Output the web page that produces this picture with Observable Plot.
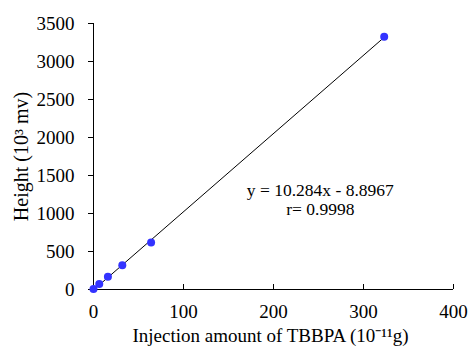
<!DOCTYPE html>
<html><head><meta charset="utf-8">
<script src="https://cdn.jsdelivr.net/npm/d3@7"></script>
<script src="https://cdn.jsdelivr.net/npm/@observablehq/plot@0.6"></script>
<style>body{margin:0;background:#fff}</style></head>
<body><div id="chart"></div>
<script>
const injection = [0, 6.4, 16, 32, 64, 323];
const heights = [5, 72, 168, 318, 617, 3325];
const xTicks = [0, 100, 200, 300, 400];
const yTicks = [0, 500, 1000, 1500, 2000, 2500, 3000, 3500];
const equationLines = ["y = 10.284x - 8.8967", "r= 0.9998"];
const xLabel = "Injection amount of TBBPA (10⁻¹¹g)";
const yLabel = "Height (10³ mv)";

const points = injection.map((x, i) => ({x, y: heights[i]}));
const FF = "Liberation Serif";
const fmt = d => String(d);

const chart = Plot.plot({
  width: 468, height: 352,
  marginLeft: 93, marginRight: 15, marginTop: 23, marginBottom: 63,
  style: {fontFamily: FF, fontSize: "19px", color: "#000", background: "#fff"},
  x: {domain: [0, 400]},
  y: {domain: [0, 3500]},
  marks: [
    Plot.axisY(yTicks, {tickSize: 5, tickPadding: 14, label: null, fontSize: 19, fontFamily: FF, tickFormat: fmt, stroke: "#000"}),
    Plot.axisX(xTicks, {tickSize: 0, tickPadding: 14.5, label: null, fontSize: 19, fontFamily: FF, tickFormat: fmt}),
    Plot.ruleX(xTicks.slice(1), {x: d => d, y1: 0, y2: 0, insetTop: -5, stroke: "#000"}),
    Plot.ruleX([0], {y1: 0, y2: 3500, stroke: "#000"}),
    Plot.ruleY([0], {x1: 0, x2: 400, stroke: "#000"}),
    Plot.linearRegressionY(points, {x: "x", y: "y", ci: 0, stroke: "#000", strokeWidth: 1}),
    Plot.dot(points, {x: "x", y: "y", r: 4, fill: "#3333ff"}),
    Plot.text([equationLines.join("\n")], {x: 252, y: 1183, text: d => d, lineAnchor: "middle", lineHeight: 1.05, fontSize: 17.5, fontFamily: FF, fill: "#000"}),
    Plot.text([xLabel], {frameAnchor: "bottom", text: d => d, dx: -3, dy: 52, fontSize: 19, fontFamily: FF, fill: "#000"}),
    Plot.text([yLabel], {x: -80, y: 1750, text: d => d, rotate: -90, lineAnchor: "middle", fontSize: 20, fontFamily: FF, fill: "#000"})
  ]
});
document.getElementById("chart").append(chart);
</script>
</body></html>
